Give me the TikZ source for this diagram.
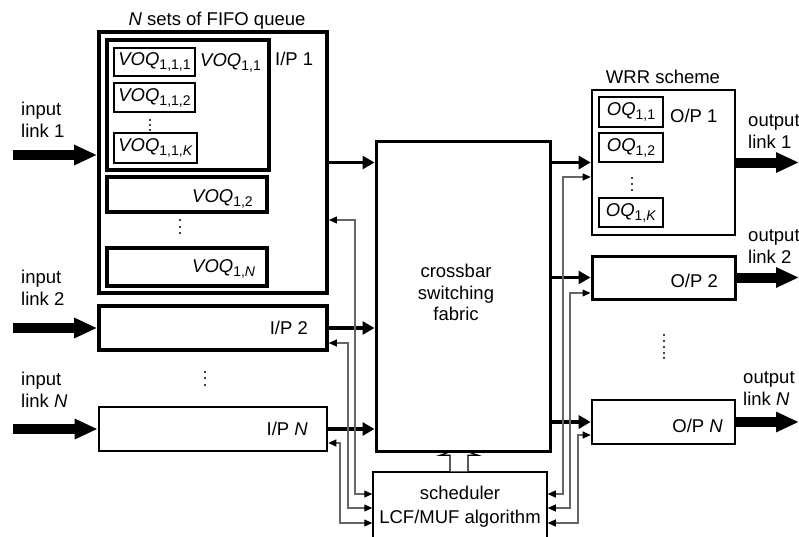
\documentclass[tikz,border=0pt]{standalone}
\usepackage{fontspec}
\setmainfont{Liberation Sans}
\usetikzlibrary{arrows.meta,calc}
\newcommand\subs[1]{\raisebox{-4pt}{\fontsize{14}{14}\selectfont #1}}
\newcommand\mybox[7]{\node[#6, minimum width={#4-#2}, minimum height={#5-#3}] (#1) at ({(#2+#4)/2},{(#3+#5)/2}) {#7};}
\tikzset{
  txt/.style={inner sep=0pt, font=\fontsize{18.5}{22}\selectfont},
  bx/.style={draw, inner sep=0pt, font=\fontsize{18.5}{22}\selectfont},
  thickarrow/.style={line width=3.2pt, -{Triangle[length=12pt,width=13pt]}},
  bigarrow/.style={line width=10pt, -{Triangle[length=23pt,width=19pt]}},
  fb/.style={line width=1.1pt, draw=black!60, {Triangle[length=8pt,width=7pt,color=black]}-{Triangle[length=8pt,width=7pt,color=black]}},
  dotmark/.style={fill=black, radius=1.1pt}
}
\begin{document}
\begin{tikzpicture}[x=1pt,y=-1pt]
\useasboundingbox (0,0) rectangle (799,536);
% input port 1
\mybox{ip1}{99}{32}{327}{293}{bx, line width=3.8pt}{}
\mybox{voq11}{107}{40}{269}{170}{bx, line width=3.2pt}{}
\mybox{voq111}{114}{48}{195}{76}{bx, line width=1.2pt}{\textit{VOQ}\subs{1,1,1}}
\mybox{voq112}{114}{83}{195}{112}{bx, line width=1.2pt}{\textit{VOQ}\subs{1,1,2}}
\mybox{voq11K}{114}{133}{197}{163}{bx, line width=1.2pt}{\textit{VOQ}\subs{1,1,\textit{K}}}
\mybox{voq12}{107}{177}{267}{212}{bx, line width=3.4pt}{}
\mybox{voq1N}{107}{248}{267}{286}{bx, line width=3.4pt}{}
\mybox{ip2}{99}{306}{327}{350}{bx, line width=3.6pt}{}
\mybox{ipN}{99}{407}{327}{451}{bx, line width=2.6pt}{}
% scheduler and hollow arrow
\mybox{sched}{373}{472}{547}{545}{bx, line width=1.5pt}{}
\draw[line width=1.2pt, fill=white] ($(sched.north)+(-10,0)$) -- ++(0,-16) -- ++(-10,0)
   -- ($(sched.north)+(-1,-22.5)$) -- ($(sched.north)+(18,-16)$) -- ++(-10,0) -- ($(sched.north)+(8,0)$);
% crossbar
\mybox{xbar}{376}{141}{550}{451}{bx, line width=3pt, fill=white}{}
% output ports
\mybox{op1}{592}{90}{735}{235}{bx, line width=2.6pt}{}
\mybox{oq11}{599}{97}{663}{127}{bx, line width=1.2pt}{\textit{OQ}\subs{1,1}}
\mybox{oq12}{599}{133}{663}{162}{bx, line width=1.2pt}{\textit{OQ}\subs{1,2}}
\mybox{oq1K}{599}{198}{663}{227}{bx, line width=1.2pt}{\textit{OQ}\subs{1,\textit{K}}}
\mybox{op2}{592}{256}{735}{299}{bx, line width=3pt}{}
\mybox{opN}{592}{400}{735}{444}{bx, line width=2.6pt}{}
% texts
\node[txt, anchor=base] (tfifo) at (217,25) {\textit{N} sets of FIFO queue};
\node[txt, anchor=base west] (tip1) at (275,65) {I/P 1};
\node[txt, anchor=base west] (tvoq11) at (200,66) {\textit{VOQ}\subs{1,1}};
\node[txt, anchor=base west] (tvoq12) at (192,202) {\textit{VOQ}\subs{1,2}};
\node[txt, anchor=base west] (tvoq1N) at (192,272) {\textit{VOQ}\subs{1,\textit{N}}};
\node[txt, anchor=base east] (tip2) at (308,334) {I/P 2};
\node[txt, anchor=base east] (tipN) at (308,435) {I/P \textit{N}};
\node[txt, anchor=base west] (top1) at (670,122) {O/P 1};
\node[txt, anchor=base east] (top2) at (718,287) {O/P 2};
\node[txt, anchor=base east] (topN) at (723,432) {O/P \textit{N}};
\node[txt, anchor=base] (twrr) at (663,83) {WRR scheme};
\node[txt, anchor=base] (tx1) at (456,277) {crossbar};
\node[txt, anchor=base] (tx2) at (456,299) {switching};
\node[txt, anchor=base] (tx3) at (456,320) {fabric};
\node[txt, anchor=base] (ts1) at (460,499) {scheduler};
\node[txt, anchor=base] (ts2) at (460,523) {LCF/MUF algorithm};
\node[txt, anchor=base west] (ti1a) at (21,115) {input};
\node[txt, anchor=base west] (ti1b) at (21,137) {link 1};
\node[txt, anchor=base west] (ti2a) at (21,283) {input};
\node[txt, anchor=base west] (ti2b) at (21,305) {link 2};
\node[txt, anchor=base west] (tiNa) at (21,385) {input};
\node[txt, anchor=base west] (tiNb) at (21,407) {link \textit{N}};
\node[txt, anchor=base west] (to1a) at (748,126) {output};
\node[txt, anchor=base west] (to1b) at (748,148) {link 1};
\node[txt, anchor=base west] (to2a) at (748,241) {output};
\node[txt, anchor=base west] (to2b) at (748,263) {link 2};
\node[txt, anchor=base west] (toNa) at (743,383) {output};
\node[txt, anchor=base west] (toNb) at (743,405) {link \textit{N}};
% dots
\foreach \y in {120,125,130} \fill[dotmark] (150,\y) circle;
\foreach \y in {220,227,233} \fill[dotmark] (180,\y) circle;
\foreach \y in {372,378,385} \fill[dotmark] (205,\y) circle;
\foreach \y in {178,184,190} \fill[dotmark] (632,\y) circle;
\foreach \y in {335,341,347,353,358} \fill[dotmark] (664,\y) circle;
% input link arrows
\coordinate (in1) at (13,155);
\coordinate (in2) at (13,328);
\coordinate (inN) at (13,429);
\draw[bigarrow] (in1) -- (in1 -| ip1.west);
\draw[bigarrow] (in2) -- (in2 -| ip2.west);
\draw[bigarrow] (inN) -- (inN -| ipN.west);
% output link arrows
\coordinate (edge) at (799,0);
\draw[bigarrow] (op1.east) -- (op1.east -| edge);
\draw[bigarrow] (op2.east) -- (op2.east -| edge);
\draw[bigarrow] (opN.east) -- (opN.east -| edge);
% data arrows through the crossbar
\draw[thickarrow] (ip1.east) -- (ip1.east -| xbar.west);
\draw[thickarrow] (ip2.east) -- (ip2.east -| xbar.west);
\draw[thickarrow] (ipN.east) -- (ipN.east -| xbar.west);
\draw[thickarrow] (op1.west -| xbar.east) -- (op1.west);
\draw[thickarrow] (op2.west -| xbar.east) -- (op2.west);
\draw[thickarrow] (opN.west -| xbar.east) -- (opN.west);
% scheduler feedback lines
\coordinate (fa) at (355,220);
\coordinate (fb) at (348,343);
\coordinate (fc) at (340,443);
\coordinate (ga) at (563,177);
\coordinate (gb) at (570,293);
\coordinate (gc) at (578,435);
\coordinate (sa) at (0,494);
\coordinate (sb) at (0,508);
\coordinate (sc) at (0,523);
\draw[fb] (fa -| ip1.east) -- (fa) |- (sa -| sched.west);
\draw[fb] (fb -| ip2.east) -- (fb) |- (sb -| sched.west);
\draw[fb] (fc -| ipN.east) -- (fc) |- (sc -| sched.west);
\draw[fb] (ga -| op1.west) -- (ga) |- (sa -| sched.east);
\draw[fb] (gb -| op2.west) -- (gb) |- (sb -| sched.east);
\draw[fb] (gc -| opN.west) -- (gc) |- (sc -| sched.east);
\end{tikzpicture}
\end{document}
